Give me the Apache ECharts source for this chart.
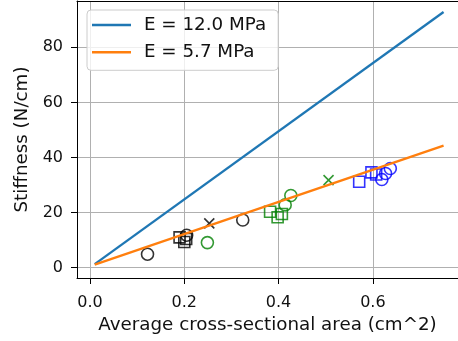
<!DOCTYPE html>
<html>
<head>
<meta charset="utf-8">
<script src="https://cdn.jsdelivr.net/npm/echarts@6/dist/echarts.min.js"></script>
<style>html,body{margin:0;padding:0;background:#fff;}#c{width:458px;height:341px;}</style>
</head>
<body>
<div id="c"></div>
<script>
// Fitted lines (area, stiffness)
const lineE12 = [[0.01, 1.3], [0.75, 92.8]];
const lineE57 = [[0.01, 1.1], [0.75, 44.3]];
// Measured points
const blackCircles = [[0.122, 4.9], [0.205, 11.8], [0.324, 17.3]];
const blackSquares = [[0.190, 11.0], [0.200, 9.3], [0.204, 10.4]];
const blackCrosses = [[0.253, 16.1]];
const greenCircles = [[0.249, 9.1], [0.414, 22.8], [0.426, 26.2]];
const greenSquares = [[0.382, 20.3], [0.398, 18.3], [0.407, 19.5]];
const greenCrosses = [[0.506, 31.8]];
const blueCircles = [[0.619, 32.0], [0.627, 34.2], [0.637, 36.0]];
const blueSquares = [[0.571, 31.2], [0.597, 34.6], [0.607, 33.8]];
// Ticks
const xTicks = [0.0, 0.2, 0.4, 0.6];
const yTicks = [0, 20, 40, 60, 80];
const legendNames = ['E = 12.0 MPa', 'E = 5.7 MPa'];

const FONT = 'DejaVu Sans';
const FS = 16;
const FS_BIG = 18.3;
const crossPath = 'path://M0,0L10,10M10,0L0,10';

function pts(name, data, symbol, color, size) {
  return {
    type: 'scatter', name: name, data: data, symbol: symbol, symbolSize: size,
    itemStyle: { color: 'rgba(0,0,0,0)', borderColor: color, borderWidth: 1.6 },
    emphasis: { disabled: true }, z: 3
  };
}

const chart = echarts.init(document.getElementById('c'), null, { renderer: 'canvas' });
chart.setOption({
  animation: false,
  backgroundColor: '#fff',
  textStyle: { fontFamily: FONT },
  grid: { left: 77, top: 1, right: 0, bottom: 63, show: false },
  legend: {
    data: legendNames.map(n => ({ name: n, icon: 'rect' })),
    orient: 'vertical', left: 87, top: 10,
    itemWidth: 39, itemHeight: 2.5, itemGap: 7.3,
    padding: [5, 12, 8, 5],
    borderColor: '#cccccc', borderWidth: 1, borderRadius: 4,
    backgroundColor: 'rgba(255,255,255,0.8)',
    textStyle: { fontFamily: FONT, fontSize: FS_BIG, color: '#111', lineHeight: 20, padding: [0, 0, 0, 8] }
  },
  xAxis: [{
    type: 'value', min: -0.0276, max: 0.7806,
    name: 'Average cross-sectional area (cm^2)', nameLocation: 'middle', nameGap: 37,
    nameTextStyle: { fontFamily: FONT, fontSize: FS_BIG, color: '#111' },
    axisLine: { show: true, onZero: false, lineStyle: { color: '#000', width: 1 } },
    axisTick: { show: true, customValues: xTicks, length: 6, lineStyle: { color: '#000' } },
    axisLabel: { customValues: xTicks, formatter: v => v.toFixed(1), margin: 17, fontFamily: FONT, fontSize: FS, color: '#111' },
    splitLine: { show: true, lineStyle: { color: '#b0b0b0', width: 1 } }
  }, {
    type: 'value', position: 'top', min: -0.0276, max: 0.7806,
    axisLine: { show: true, onZero: false, lineStyle: { color: '#000', width: 1 } },
    axisTick: { show: false }, axisLabel: { show: false }, splitLine: { show: false }
  }],
  yAxis: {
    type: 'value', min: -3.74, max: 96.8,
    name: 'Stiffness (N/cm)', nameLocation: 'middle', nameGap: 46,
    nameTextStyle: { fontFamily: FONT, fontSize: FS_BIG, color: '#111' },
    axisLine: { show: true, onZero: false, lineStyle: { color: '#000', width: 1 } },
    axisTick: { show: true, customValues: yTicks, length: 6, lineStyle: { color: '#000' } },
    axisLabel: { customValues: yTicks, margin: 14, fontFamily: FONT, fontSize: FS, color: '#111' },
    splitLine: { show: true, lineStyle: { color: '#b0b0b0', width: 1 } }
  },
  series: [
    { type: 'line', name: legendNames[0], data: lineE12, showSymbol: false, symbol: 'none', color: '#1f77b4', lineStyle: { color: '#1f77b4', width: 2.3 }, z: 2 },
    { type: 'line', name: legendNames[1], data: lineE57, showSymbol: false, symbol: 'none', color: '#ff7f0e', lineStyle: { color: '#ff7f0e', width: 2.3 }, z: 4 },
    pts('bc', blackCircles, 'circle', '#000', 12),
    pts('bs', blackSquares, 'rect', '#000', 11),
    pts('bx', blackCrosses, crossPath, '#000', 10),
    pts('gc', greenCircles, 'circle', '#008000', 12),
    pts('gs', greenSquares, 'rect', '#008000', 11),
    pts('gx', greenCrosses, crossPath, '#008000', 10),
    pts('uc', blueCircles, 'circle', '#0000ff', 12),
    pts('us', blueSquares, 'rect', '#0000ff', 11)
  ]
});
</script>
</body>
</html>
